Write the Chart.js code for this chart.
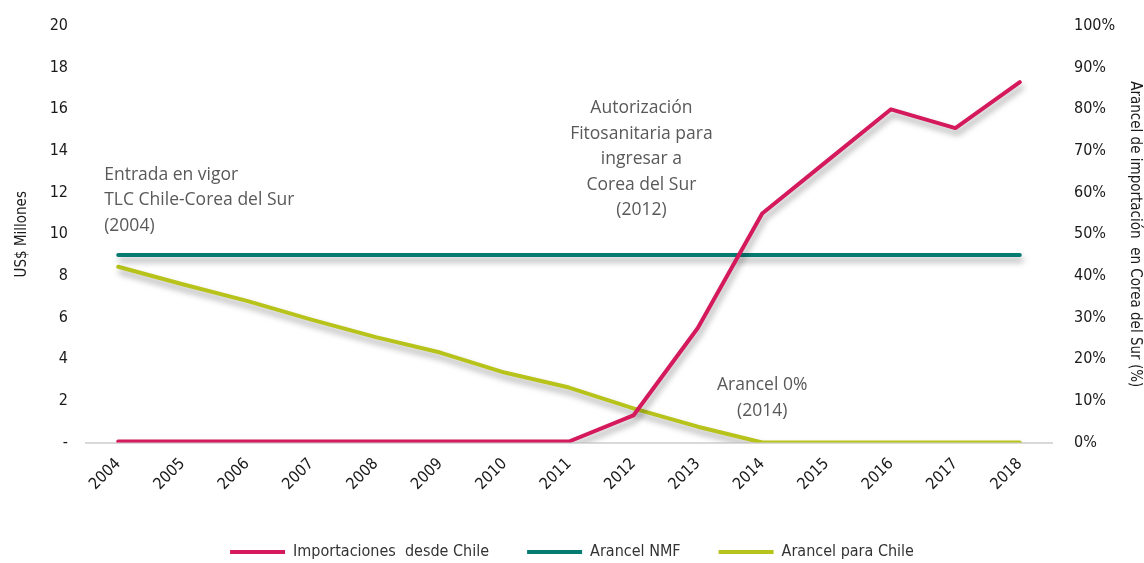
<!DOCTYPE html>
<html>
<head>
<meta charset="utf-8">
<script src="https://cdn.jsdelivr.net/npm/chart.js@4.4.1/dist/chart.umd.min.js"></script>
<style>
  html, body { margin: 0; padding: 0; background: #fff; }
  #wrap { width: 1144px; height: 563px; position: relative; }
</style>
</head>
<body>
<div id="wrap"><canvas id="chart"></canvas></div>
<script>
const YEARS = ['2004', '2005', '2006', '2007', '2008', '2009', '2010', '2011', '2012', '2013', '2014', '2015', '2016', '2017', '2018'];
// US$ millones
const IMPORTACIONES = [0.05, 0.05, 0.05, 0.05, 0.05, 0.05, 0.05, 0.05, 1.3, 5.5, 11.0, 13.5, 16.0, 15.1, 17.3];
// % arancel
const ARANCEL_NMF = [45, 45, 45, 45, 45, 45, 45, 45, 45, 45, 45, 45, 45, 45, 45];
const ARANCEL_CHILE = [42.2, 38, 34, 29.5, 25.3, 21.6, 16.8, 13.2, 8.2, 3.8, 0, 0, 0, 0, 0];

const LEFT_TICKS = [0, 2, 4, 6, 8, 10, 12, 14, 16, 18, 20];

// notas sobre el gráfico
const NOTAS = [
  { lines: ['Entrada en vigor', 'TLC Chile-Corea del Sur', '(2004)'], year: 0, value: 12.85, align: 'left', dx: -14 },
  { lines: ['Autorización', 'Fitosanitaria para', 'ingresar a', 'Corea del Sur', '(2012)'], year: 8, value: 16.05, align: 'center', dx: 8 },
  { lines: ['Arancel 0%', '(2014)'], year: 10, value: 2.75, align: 'center', dx: 0 }
];

const TICK_FONT = "'Liberation Sans Narrow', 'DejaVu Sans Condensed', sans-serif";
const NOTE_FONT = "'Open Sans', 'Noto Sans', sans-serif";

const sombra = {
  id: 'sombra',
  beforeDatasetDraw(chart) {
    const ctx = chart.ctx;
    ctx.save();
    ctx.shadowColor = 'rgba(0,0,0,0.35)';
    ctx.shadowBlur = 6;
    ctx.shadowOffsetX = 2;
    ctx.shadowOffsetY = 5;
  },
  afterDatasetDraw(chart) {
    chart.ctx.restore();
  }
};

const notas = {
  id: 'notas',
  afterDraw(chart) {
    const ctx = chart.ctx;
    const x = chart.scales.x, y = chart.scales.y;
    ctx.save();
    ctx.fillStyle = '#595959';
    ctx.font = '17.5px ' + NOTE_FONT;
    ctx.textBaseline = 'middle';
    NOTAS.forEach(n => {
      const px = x.getPixelForValue(n.year) + n.dx;
      const py = y.getPixelForValue(n.value);
      ctx.textAlign = n.align;
      n.lines.forEach((t, i) => ctx.fillText(t, px, py + i * 25.5));
    });
    ctx.restore();
  }
};

// ejes verticales sin relleno extra arriba/abajo
function fitVertical(width) {
  return axis => {
    axis.width = width;
    axis.paddingTop = 0;
    axis.paddingBottom = 0;
  };
}

new Chart(document.getElementById('chart'), {
  type: 'line',
  data: {
    labels: YEARS,
    datasets: [
      { label: 'Importaciones  desde Chile', data: IMPORTACIONES, yAxisID: 'y', borderColor: '#d4195c', backgroundColor: '#d4195c', borderWidth: 4, pointRadius: 0, borderCapStyle: 'round', borderJoinStyle: 'round', tension: 0 },
      { label: 'Arancel NMF', data: ARANCEL_NMF, yAxisID: 'y1', borderColor: '#067b72', backgroundColor: '#067b72', borderWidth: 4, pointRadius: 0, borderCapStyle: 'round', tension: 0 },
      { label: 'Arancel para Chile', data: ARANCEL_CHILE, yAxisID: 'y1', borderColor: '#b7c31b', backgroundColor: '#b7c31b', borderWidth: 4, pointRadius: 0, borderCapStyle: 'round', borderJoinStyle: 'round', tension: 0 }
    ]
  },
  options: {
    responsive: true,
    maintainAspectRatio: false,
    animation: false,
    layout: { padding: { top: 26, left: 0, right: 0, bottom: -7 } },
    plugins: {
      legend: {
        position: 'bottom',
        labels: {
          usePointStyle: true,
          pointStyle: 'line',
          pointStyleWidth: 55,
          boxHeight: 4,
          padding: 38,
          color: '#333',
          font: { family: TICK_FONT, size: 16 }
        }
      },
      tooltip: { enabled: false }
    },
    scales: {
      x: {
        offset: true,
        grid: { display: false, drawTicks: false },
        border: { display: true, color: '#d9d9d9', width: 2 },
        ticks: { minRotation: 45, maxRotation: 45, padding: 12, color: '#1a1a1a', font: { family: TICK_FONT, size: 16 } }
      },
      y: {
        position: 'left',
        min: 0, max: 20,
        afterBuildTicks: axis => { axis.ticks = LEFT_TICKS.map(v => ({ value: v })); },
        afterFit: fitVertical(86),
        grid: { display: false, drawTicks: false },
        border: { display: false },
        title: { display: true, text: 'US$ Millones', color: '#1a1a1a', font: { family: TICK_FONT, size: 15 }, padding: { top: 13, bottom: 0 } },
        ticks: { padding: 18, color: '#1a1a1a', font: { family: TICK_FONT, size: 16 }, callback: v => v === 0 ? '-' : v }
      },
      y1: {
        position: 'right',
        min: 0, max: 100,
        afterFit: fitVertical(92),
        grid: { display: false, drawTicks: false },
        border: { display: false },
        title: { display: true, text: 'Arancel de importación  en Corea del Sur (%)', color: '#1a1a1a', font: { family: TICK_FONT, size: 15 }, padding: { top: 0, bottom: 2 } },
        ticks: { stepSize: 10, padding: 22, color: '#1a1a1a', font: { family: TICK_FONT, size: 16 }, callback: v => v + '%' }
      }
    }
  },
  plugins: [sombra, notas]
});
</script>
</body>
</html>
